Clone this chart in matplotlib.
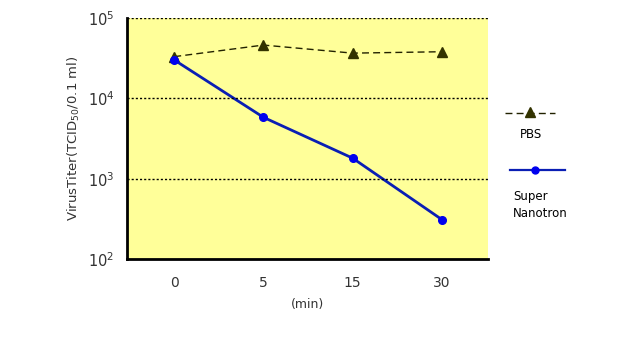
import matplotlib.pyplot as plt
from matplotlib.lines import Line2D

times = ["0", "5", "15", "30"]
pbs = [33000, 46000, 36500, 38000]
nanotron = [30000, 5800, 1800, 310]

fig = plt.figure(figsize=(6.34, 3.39), dpi=100)
ax = fig.add_axes([0.2003, 0.236, 0.5697, 0.711])
ax.set_facecolor("#ffff99")

x = range(len(times))
ax.plot(x, pbs, color="#222200", linestyle=(0, (5, 3)), linewidth=1.0,
        marker="^", markersize=7, markerfacecolor="#333300", markeredgecolor="#333300")
ax.plot(x, nanotron, color="#0a1eb4", linewidth=2.0,
        marker="o", markersize=5.5, markerfacecolor="#0000ee", markeredgecolor="#0000ee")

ax.set_yscale("log")
ax.set_ylim(100, 100000)
ax.set_xlim(-0.53, 3.52)
ax.set_xticks(list(x))
ax.set_xticklabels(times, fontsize=10, color="#333333")
ax.set_yticks([100, 1000, 10000, 100000])
ax.set_yticklabels(["$10^{2}$", "$10^{3}$", "$10^{4}$", "$10^{5}$"], fontsize=10.5,
                   color="#333333")
ax.minorticks_off()
ax.tick_params(length=0, pad=9)
ax.tick_params(axis="x", pad=12)

for v in [1000, 10000, 100000]:
    ax.axhline(v, color="black", linestyle=(0, (1.5, 1.5)), linewidth=1.0)

for s in ["top", "right"]:
    ax.spines[s].set_visible(False)
for s in ["left", "bottom"]:
    ax.spines[s].set_linewidth(2.0)

ax.set_ylabel("VirusTiter(TCID$_{50}$/0.1 ml)", fontsize=9.5, color="#333333", labelpad=4)
ax.set_xlabel("(min)", fontsize=9, color="#333333", labelpad=6)

# legend drawn beside the axes
fig.add_artist(Line2D([505 / 634, 555 / 634], [1 - 113 / 339] * 2, color="#222200",
                      linestyle=(0, (5, 3)), linewidth=1.0))
fig.add_artist(Line2D([530 / 634], [1 - 112 / 339], marker="^", markersize=7,
                      color="#333300", linestyle="none"))
fig.text(531 / 634, 1 - 135 / 339, "PBS", fontsize=8.5, ha="center", va="center")
fig.add_artist(Line2D([510 / 634, 565 / 634], [1 - 170 / 339] * 2, color="#0a1eb4",
                      linewidth=1.6))
fig.add_artist(Line2D([535 / 634], [1 - 170 / 339], marker="o", markersize=5,
                      color="#0000ee", linestyle="none"))
fig.text(513 / 634, 1 - 205 / 339, "Super\nNanotron", fontsize=8.5, ha="left",
         va="center", linespacing=1.4)

fig.savefig("out.png", dpi=100)
